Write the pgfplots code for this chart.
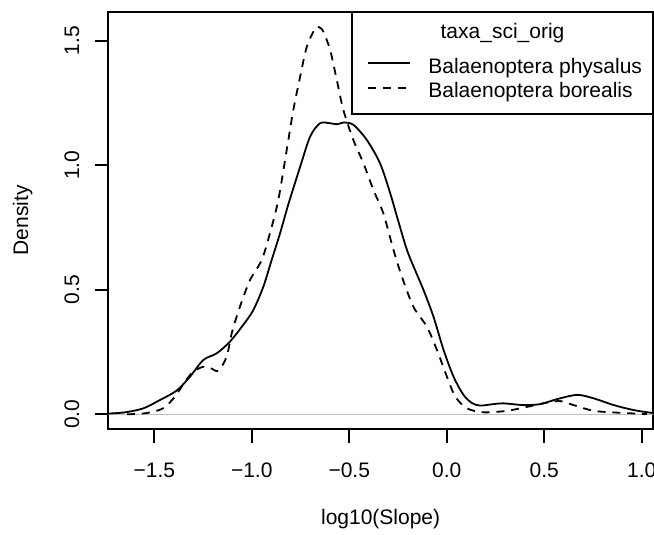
\documentclass[border=0pt]{standalone}
\usepackage{fontspec}
\setmainfont{Liberation Sans}
\usepackage{pgfplots}
\pgfplotsset{compat=1.18}
\begin{document}
\fontsize{10.5}{12.6}\selectfont
\begin{tikzpicture}
\begin{axis}[
  at={(54.15pt,-6pt)}, anchor=north west,
  scale only axis, width=272.35pt, height=208.5pt,
  xmin=-1.736, xmax=1.058, ymin=-0.059, ymax=1.616,
  axis line style={line width=1pt},
  xtick={-1.5,-1,-0.5,0,0.5,1}, xticklabels={−1.5,−1.0,−0.5,0.0,0.5,1.0},
  ytick={0,0.5,1,1.5}, yticklabels={0.0,0.5,1.0,1.5},
  tick align=outside, xtick pos=bottom, ytick pos=left,
  major tick length=6.75pt,
  tick style={line width=1pt, black},
  xticklabel style={anchor=base, yshift=-17.25pt},
  yticklabel style={xshift=-7.9pt, rotate=90, anchor=base},
  xlabel={log10(Slope)}, ylabel={Density},
  xlabel style={at={(axis description cs:0.5,-0.2302)}, anchor=base},
  ylabel style={at={(axis description cs:-0.1474,0.5)}, anchor=base},
]
\addplot[color={rgb,255:red,190;green,190;blue,190}, line width=0.5pt] coordinates {(-1.736,0) (1.058,0)};
\addplot[black, line width=0.9pt, smooth] coordinates {
(-1.736,0.003) (-1.65,0.008) (-1.556,0.024) (-1.472,0.057) (-1.386,0.095)
(-1.317,0.151) (-1.249,0.218) (-1.180,0.245) (-1.112,0.292) (-1.044,0.359)
(-0.992,0.419) (-0.941,0.512) (-0.898,0.620) (-0.855,0.727) (-0.810,0.850)
(-0.752,0.994) (-0.701,1.115) (-0.650,1.169) (-0.598,1.169) (-0.560,1.165)
(-0.530,1.172) (-0.479,1.163) (-0.410,1.102) (-0.342,1.008) (-0.290,0.888)
(-0.250,0.780) (-0.204,0.660) (-0.160,0.575) (-0.119,0.499) (-0.068,0.392)
(-0.016,0.258) (0.035,0.151) (0.086,0.078) (0.130,0.045) (0.172,0.035)
(0.230,0.040) (0.292,0.044) (0.394,0.037) (0.480,0.041) (0.566,0.061)
(0.669,0.078) (0.754,0.064) (0.857,0.037) (0.959,0.017) (1.058,0.005)
};
\addplot[black, line width=0.9pt, smooth, dash pattern=on 4pt off 3.4pt] coordinates {
(-1.640,0.000) (-1.540,0.005) (-1.455,0.024) (-1.394,0.071) (-1.343,0.131)
(-1.300,0.171) (-1.249,0.191) (-1.210,0.185) (-1.172,0.175) (-1.129,0.231)
(-1.103,0.325) (-1.061,0.432) (-1.009,0.539) (-0.949,0.620) (-0.907,0.727)
(-0.864,0.861) (-0.821,1.061) (-0.787,1.222) (-0.752,1.356) (-0.718,1.476)
(-0.675,1.550) (-0.655,1.555) (-0.633,1.537) (-0.598,1.463) (-0.564,1.343)
(-0.530,1.222) (-0.479,1.102) (-0.427,1.008) (-0.376,0.901) (-0.325,0.807)
(-0.273,0.660) (-0.230,0.553) (-0.171,0.432) (-0.102,0.352) (-0.050,0.258)
(0.001,0.151) (0.044,0.071) (0.104,0.024) (0.189,0.008) (0.309,0.014)
(0.412,0.030) (0.515,0.047) (0.583,0.053) (0.651,0.037) (0.754,0.014)
(0.891,0.006) (1.028,0.001)
};
\end{axis}
\fill[white] (176pt,-6pt) rectangle (326.5pt,-57pt);
\draw[line width=1pt] (176pt,-6pt) rectangle (326.5pt,-57pt);
\node[anchor=base, inner sep=0pt] at (251.25pt,-19.25pt) {taxa\_sci\_orig};
\draw[line width=0.9pt] (184pt,-31.65pt) -- (205pt,-31.65pt);
\node[anchor=base west, inner sep=0pt] at (214pt,-37pt) {Balaenoptera physalus};
\draw[line width=0.9pt, dash pattern=on 4pt off 3.4pt] (184pt,-44.15pt) -- (205pt,-44.15pt);
\node[anchor=base west, inner sep=0pt] at (214pt,-49pt) {Balaenoptera borealis};
\pgfresetboundingbox
\path (0pt,0pt) rectangle (327pt,-267.5pt);
\end{tikzpicture}
\end{document}
